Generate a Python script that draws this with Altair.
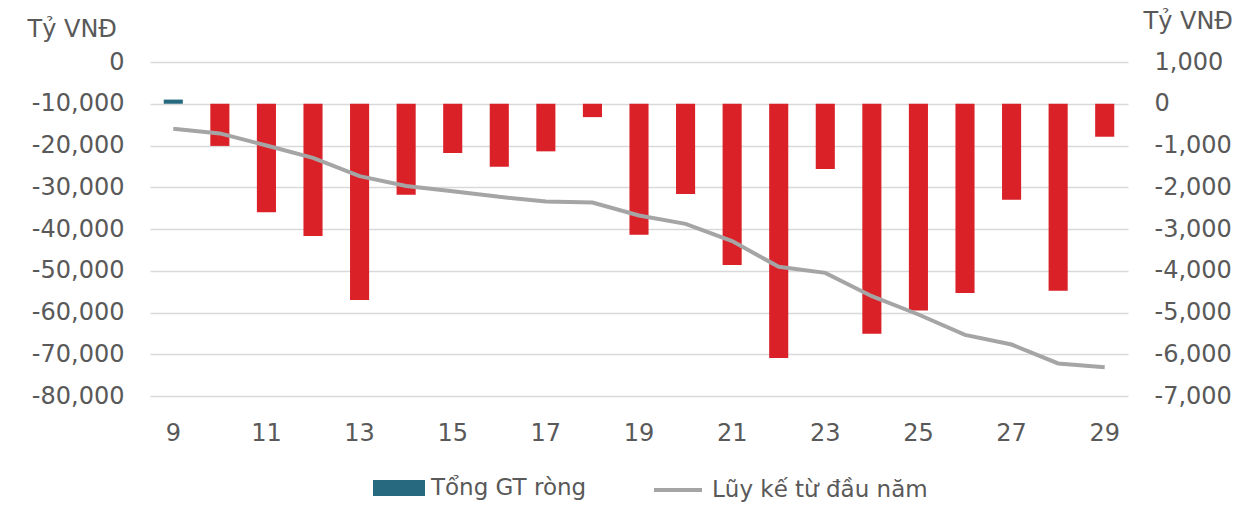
import altair as alt
import pandas as pd

days = list(range(9, 30))
net_flow = [100, -1010, -2600, -3170, -4700, -2180, -1180, -1510, -1140, -320,
            -3140, -2160, -3860, -6090, -1560, -5510, -4950, -4530, -2300, -4480, -790]
cumulative = [-16000, -17100, -20000, -22950, -27350, -29700, -30950, -32300, -33400, -33650,
              -36770, -38770, -42900, -49060, -50500, -56100, -60480, -65350, -67670, -72200, -73100]
left_ticks = [0, -10000, -20000, -30000, -40000, -50000, -60000, -70000, -80000]
right_ticks = [1000, 0, -1000, -2000, -3000, -4000, -5000, -6000, -7000]
x_labels = list(range(9, 30, 2))

BAR_NAME = "Tổng GT ròng"
LINE_NAME = "Lũy kế từ đầu năm"
TEAL = "#276a80"
RED = "#da2128"
GRAY = "#a5a5a5"
TXT = "#595959"
FONT = "DejaVu Sans"
FS = 24
LFS = 23

NUM_EXPR = "(datum.value < 0 ? '-' : '') + format(abs(datum.value), ',.0f')"

df = pd.DataFrame({"day": days, "net": net_flow, "cum": cumulative})
df["sign"] = [BAR_NAME if v > 0 else "neg" for v in net_flow]
df["series"] = LINE_NAME

xenc = alt.X("day:O", title=None,
             scale=alt.Scale(paddingInner=0.59, paddingOuter=0.295),
             axis=alt.Axis(values=x_labels, labelAngle=0, domain=False, ticks=False,
                           labelPadding=25, grid=False))

base = alt.Chart(df)

bars = base.mark_bar().encode(
    x=xenc,
    y=alt.Y("net:Q", scale=alt.Scale(domain=[-7000, 1000], nice=False, zero=True),
            axis=alt.Axis(orient="right", values=right_ticks, labelExpr=NUM_EXPR, grid=False,
                          domain=False, ticks=False, labelPadding=26,
                          title="Tỷ VNĐ", titleAngle=0, titleAlign="left",
                          titleBaseline="alphabetic", titleX=15, titleY=-34)),
    fill=alt.Fill("sign:N",
                  scale=alt.Scale(domain=[BAR_NAME, "neg"], range=[TEAL, RED]),
                  legend=alt.Legend(values=[BAR_NAME], orient="none", legendX=223, legendY=400,
                                    title=None, symbolType="M-1,-0.31L1,-0.31L1,0.31L-1,0.31Z",
                                    symbolSize=2704, symbolStrokeWidth=0, symbolOpacity=1,
                                    labelOffset=6, padding=0, labelLimit=500)),
)

line = base.mark_line(strokeWidth=4).encode(
    x=xenc,
    y=alt.Y("cum:Q", scale=alt.Scale(domain=[-80000, 0], nice=False),
            axis=alt.Axis(orient="left", values=left_ticks, labelExpr=NUM_EXPR, grid=True,
                          gridColor="#d9d9d9", gridWidth=1.5,
                          domain=False, ticks=False, labelPadding=26,
                          title="Tỷ VNĐ", titleAngle=0, titleAlign="left",
                          titleBaseline="alphabetic", titleX=-123, titleY=-26)),
    stroke=alt.Stroke("series:N",
                      scale=alt.Scale(domain=[LINE_NAME], range=[GRAY]),
                      legend=alt.Legend(orient="none", legendX=502, legendY=402, title=None,
                                        symbolType="stroke", symbolSize=2304,
                                        symbolStrokeWidth=4, labelOffset=8, padding=0,
                                        labelLimit=500)),
)

chart = alt.layer(bars, line).resolve_scale(
    y="independent", fill="independent", stroke="independent"
).properties(
    width=978, height=334,
    autosize=alt.AutoSizeParams(type="none"),
    padding={"left": 142, "top": 54, "right": 115, "bottom": 109},
).configure_view(stroke=None).configure_axis(
    labelFont=FONT, labelFontSize=FS, labelColor=TXT,
    titleFont=FONT, titleFontSize=FS, titleColor=TXT, titleFontWeight="normal",
).configure_legend(
    labelFont=FONT, labelFontSize=LFS, labelColor=TXT,
)

chart.save("out.html", embed_options={"renderer": "svg", "actions": False})
